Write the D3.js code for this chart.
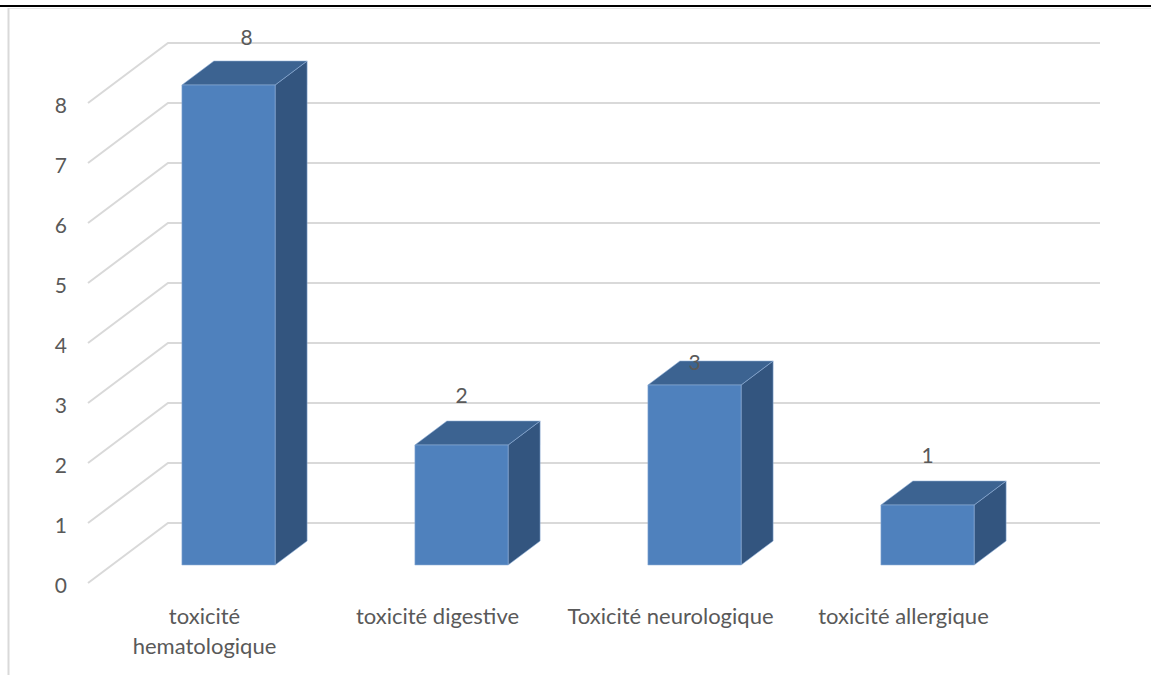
<!DOCTYPE html>
<html>
<head>
<meta charset="utf-8">
<script src="https://cdn.jsdelivr.net/npm/d3@7"></script>
<style>
  html, body { margin: 0; padding: 0; background: #fff; }
  svg { display: block; }
  text { font-family: "Lato", "Open Sans", sans-serif; fill: #595959; }
</style>
</head>
<body>
<svg id="chart" width="1151" height="675"></svg>
<script>
// Data
const categories = ["toxicité hematologique", "toxicité digestive", "Toxicité neurologique", "toxicité allergique"];
const values = [8, 2, 3, 1];
const tickValues = [0, 1, 2, 3, 4, 5, 6, 7, 8];

const W = 1151, H = 675;
const svg = d3.select("#chart");

// Frame of the chart area
svg.append("line").attr("x1", 0).attr("x2", W).attr("y1", 6).attr("y2", 6)
  .attr("stroke", "#000").attr("stroke-width", 2);
svg.append("line").attr("x1", 8.5).attr("x2", W).attr("y1", 8.5).attr("y2", 8.5)
  .attr("stroke", "#e6e6e6").attr("stroke-width", 1);
svg.append("line").attr("x1", 8.5).attr("x2", 8.5).attr("y1", 8).attr("y2", H)
  .attr("stroke", "#d9d9d9").attr("stroke-width", 2);

// 3D layout: front plane scales plus a depth vector
const x = d3.scaleBand().domain(categories).range([88, 1020]).paddingInner(0).paddingOuter(0);
const y = d3.scaleLinear().domain([0, 8]).range([583, 103]);
const depth = { dx: 80, dy: -60 };
const proj = (px, py, d) => [px + depth.dx * d, py + depth.dy * d];

// Gridlines: diagonal on the side wall, horizontal on the back wall
const grid = svg.append("g").attr("stroke", "#d9d9d9").attr("stroke-width", 2).attr("fill", "none");
const x0 = x.range()[0];
const xBackEnd = x.range()[1] + depth.dx;
tickValues.forEach(t => {
  const f = [x0, y(t)];
  const b = proj(x0, y(t), 1);
  grid.append("path").attr("d", d3.line()([f, b, [xBackEnd, b[1]]]));
});

// Axis labels
svg.append("g").selectAll("text").data(tickValues).join("text")
  .attr("x", 67).attr("y", d => y(d) + 1)
  .attr("text-anchor", "end").attr("dominant-baseline", "central")
  .attr("font-size", 21).text(d => d);

// Bars
const bw = x.bandwidth();
const dFront = 0.3, dBack = 0.7;
const colors = { front: "#4f81bd", top: "#3c6391", side: "#33557f", edge: "#8fb0da" };
const bars = svg.append("g");
categories.forEach((c, i) => {
  const v = values[i];
  const xl = x(c) + bw * 0.3, xr = x(c) + bw * 0.7;
  const yb = y(0), yt = y(v);
  const fbl = proj(xl, yb, dFront), fbr = proj(xr, yb, dFront);
  const ftl = proj(xl, yt, dFront), ftr = proj(xr, yt, dFront);
  const btl = proj(xl, yt, dBack), btr = proj(xr, yt, dBack), bbr = proj(xr, yb, dBack);
  const g = bars.append("g").attr("stroke", colors.edge).attr("stroke-width", 0.8).attr("stroke-opacity", 0.7);
  g.append("path").attr("d", d3.line()([fbr, ftr, btr, bbr]) + "Z").attr("fill", colors.side);
  g.append("path").attr("d", d3.line()([ftl, ftr, btr, btl]) + "Z").attr("fill", colors.top);
  g.append("path").attr("d", d3.line()([fbl, ftl, ftr, fbr]) + "Z").attr("fill", colors.front);
});

// Value labels above each bar (small nudges keep them clear of the plot edge)
const labelNudge = { "toxicité hematologique": [18, 2], "Toxicité neurologique": [0, 27] };
svg.append("g").selectAll("text").data(categories).join("text")
  .attr("x", (c, i) => proj(x(c) + bw / 2, 0, dFront)[0] + (labelNudge[c] ? labelNudge[c][0] : 0))
  .attr("y", (c, i) => proj(0, y(values[i]), 1)[1] - 9 + (labelNudge[c] ? labelNudge[c][1] : 0))
  .attr("text-anchor", "middle").attr("dominant-baseline", "central")
  .attr("font-size", 21).text((c, i) => values[i]);

// Category labels along the front edge, wrapped when wider than the band
const catG = svg.append("g");
categories.forEach(c => {
  const t = catG.append("text").attr("x", x(c) + bw / 2).attr("y", 615)
    .attr("text-anchor", "middle").attr("dominant-baseline", "central").attr("font-size", 22);
  const words = c.split(" ");
  let line = [];
  let tspan = t.append("tspan").attr("x", x(c) + bw / 2).attr("dy", 0);
  words.forEach(w => {
    line.push(w);
    tspan.text(line.join(" "));
    if (tspan.node().getComputedTextLength() > 216 && line.length > 1) {
      line.pop();
      tspan.text(line.join(" "));
      line = [w];
      tspan = t.append("tspan").attr("x", x(c) + bw / 2).attr("dy", 30).text(w);
    }
  });
});
</script>
</body>
</html>
